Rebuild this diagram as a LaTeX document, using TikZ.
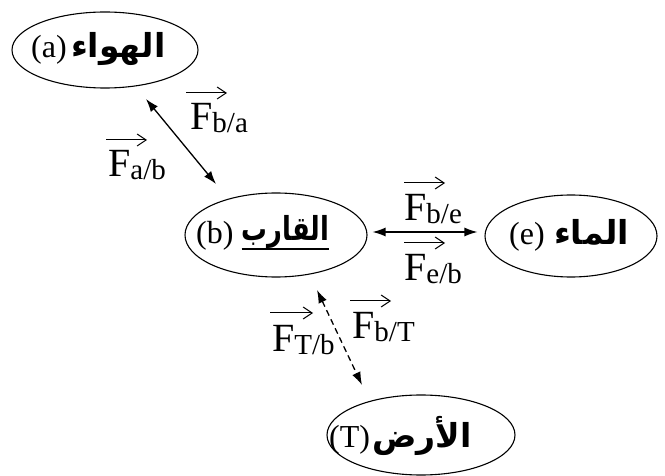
\documentclass[tikz,border=0pt]{standalone}
\usepackage{graphicx}
\usepackage{fontspec}
\setmainfont{Liberation Serif}
\newfontfamily\arabicfont[Script=Arabic]{DejaVu Sans}
\TeXXeTstate=1
\usetikzlibrary{arrows.meta,calc,shapes.geometric}
\newcommand\vlab[1]{\fontsize{40}{40}\selectfont F\raisebox{-3pt}{\fontsize{29}{29}\selectfont #1}}
\begin{document}
\begin{tikzpicture}[x=1pt,y=-1pt,
 ell/.style={draw, ellipse, line width=1.1pt, inner sep=0pt},
 lat/.style={font=\fontsize{32}{32}\selectfont, inner sep=0pt, anchor=base west},
 ar/.style={font=\arabicfont\bfseries\fontsize{33}{33}\selectfont, inner sep=0pt, anchor=base west},
 vl/.style={inner sep=0pt, anchor=base west},
 vec/.style={-{Straight Barb[length=9pt,width=12pt]}, line width=1pt},
 conn/.style={{Latex[length=13pt,width=9pt]}-{Latex[length=13pt,width=9pt]}, line width=1.3pt}]
\useasboundingbox (0,0) rectangle (665,476);
% ellipses
\node[ell, minimum width=186pt, minimum height=76pt] (air) at (105,50) {};
\node[ell, minimum width=182pt, minimum height=84pt] (boat) at (276,235) {};
\node[ell, minimum width=172pt, minimum height=82pt] (water) at (571,236) {};
\node[ell, minimum width=188pt, minimum height=80pt] (earth) at (421,435) {};
% texts
\node[lat] (airl) at (31,58) {(a)};
\node[ar] (aira) at ($(airl.base east)+(4,0)$) {\beginR الهواء\endR};
\node[lat] (boatl) at (196,244) {(b)};
\node[ar] (boata) at ($(boatl.base east)+(8,-3)$) {\scalebox{0.78}[1]{\beginR القارب\endR}};
\draw[line width=2.8pt] ($(boata.base west)+(0,8)$) -- ($(boata.base east)+(0,8)$);
\node[lat] (waterl) at (509,245) {(e)};
\node[ar] (watera) at ($(waterl.base east)+(9,0)$) {\beginR الماء\endR};
\node[lat] (earthl) at (329,447) {(T)};
\node[ar] (eartha) at ($(earthl.base east)+(2,0)$) {\beginR الأرض\endR};
% connectors
\draw[conn] ($(air.center)+(41,49)$) -- ($(boat.center)+(-60,-51)$);
\draw[conn] ($(boat.east)+(5,-3)$) -- ($(water.west)+(-7,-4)$);
\draw[conn, dashed, dash pattern=on 6pt off 4pt] ($(boat.center)+(41,55)$) -- ($(earth.center)+(-59,-50)$);
% vector labels
\node[vl] (fab) at (108,177) {\vlab{a/b}};
\draw[vec] ($(fab.base west)+(-2,-37)$) -- ++(41,0);
\node[vl] (fba) at (190,130) {\vlab{b/a}};
\draw[vec] ($(fba.base west)+(-4,-37)$) -- ++(41,0);
\node[vl] (fbe) at (404,221) {\vlab{b/e}};
\draw[vec] ($(fbe.base west)+(0,-38)$) -- ++(41,0);
\node[vl] (feb) at (404,280) {\vlab{e/b}};
\draw[vec] ($(feb.base west)+(0,-37)$) -- ++(41,0);
\node[vl] (fTb) at (272,352) {\vlab{T/b}};
\draw[vec] ($(fTb.base west)+(-2,-39)$) -- ++(43,0);
\node[vl] (fbT) at (352,338) {\vlab{b/T}};
\draw[vec] ($(fbT.base west)+(-2,-37)$) -- ++(41,0);
\end{tikzpicture}
\end{document}
